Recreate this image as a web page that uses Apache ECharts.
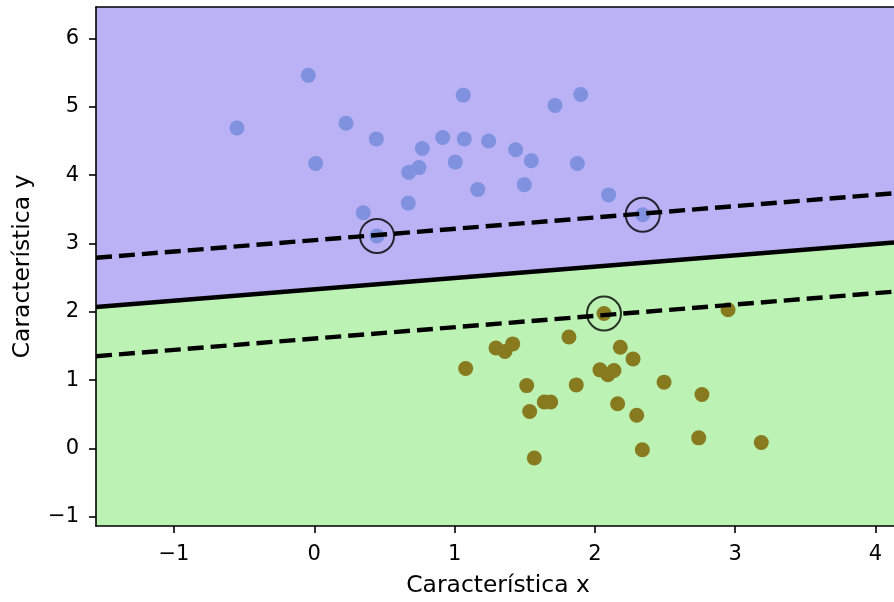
<!DOCTYPE html>
<html>
<head>
<meta charset="utf-8">
<script src="https://cdn.jsdelivr.net/npm/echarts@6/dist/echarts.min.js"></script>
<style>
  html, body { margin: 0; padding: 0; background: #ffffff; }
  #chart { width: 894px; height: 602px; }
</style>
</head>
<body>
<div id="chart"></div>
<script>
// Class 0 samples (upper cluster)
const class0X = [-0.043, 1.062, 1.716, 1.899, 0.226, 0.442, 0.770, 0.915, 1.069, 1.243, 1.435, 1.547, 1.875, 0.010, 0.746, 0.673, 1.005, 1.165, 1.497, 0.670, 0.349, 0.447, -0.551, 2.098, 2.341];
const class0Y = [5.46, 5.17, 5.02, 5.18, 4.76, 4.53, 4.39, 4.55, 4.53, 4.50, 4.37, 4.21, 4.17, 4.17, 4.11, 4.04, 4.19, 3.79, 3.86, 3.59, 3.45, 3.11, 4.69, 3.71, 3.42];

// Class 1 samples (lower cluster)
const class1X = [1.079, 1.295, 1.359, 1.414, 1.815, 1.514, 1.867, 1.639, 1.685, 1.535, 1.568, 2.065, 2.949, 2.181, 2.272, 2.036, 2.093, 2.136, 2.493, 2.763, 2.162, 2.298, 2.338, 2.740, 3.186];
const class1Y = [1.17, 1.47, 1.42, 1.53, 1.63, 0.92, 0.93, 0.68, 0.68, 0.54, -0.14, 1.975, 2.03, 1.48, 1.31, 1.15, 1.08, 1.14, 0.97, 0.79, 0.655, 0.485, -0.02, 0.155, 0.087];

// Support vectors
const supportX = [0.447, 2.341, 2.065];
const supportY = [3.11, 3.42, 1.975];

// Axis extents
const xRange = [-1.556, 4.132];
const yRange = [-1.135, 6.46];

// Decision boundary and margins, sampled at the x extent
const boundaryY = [2.07, 3.014];
const marginUpperY = [2.79, 3.734];
const marginLowerY = [1.35, 2.294];

// Tick positions
const xTicks = [-1, 0, 1, 2, 3, 4];
const yTicks = [-1, 0, 1, 2, 3, 4, 5, 6];

const FONT = 'DejaVu Sans';
const pairs = (xs, ys) => xs.map((x, i) => [x, ys[i]]);
const fmt = v => (v < 0 ? '\u2212' + Math.abs(v) : String(v));

const chart = echarts.init(document.getElementById('chart'), null, { renderer: 'canvas' });

const axisCommon = {
  type: 'value',
  z: 10,
  splitLine: { show: false },
  axisLine: { show: true, onZero: false, lineStyle: { color: '#000', width: 1.6 } },
  axisTick: { show: true, inside: false, length: 7, lineStyle: { color: '#000', width: 1.6 } },
  axisLabel: { color: '#000', fontFamily: FONT, fontSize: 21, formatter: fmt }
};

chart.setOption({
  backgroundColor: '#ffffff',
  animation: false,
  grid: { left: 96, top: 7, right: 0, bottom: 69, containLabel: false },
  xAxis: [
    Object.assign({}, axisCommon, {
      min: xRange[0], max: xRange[1],
      axisTick: Object.assign({}, axisCommon.axisTick, { customValues: xTicks }),
      axisLabel: Object.assign({}, axisCommon.axisLabel, { customValues: xTicks, margin: 18 }),
      name: 'Característica x',
      nameLocation: 'middle',
      nameGap: 48,
      nameTextStyle: { color: '#000', fontFamily: FONT, fontSize: 23.4, padding: [0, 0, 0, 6] }
    }),
    {
      type: 'value', position: 'top', min: xRange[0], max: xRange[1], z: 10,
      axisLine: { show: true, onZero: false, lineStyle: { color: '#000', width: 1.6 } },
      axisTick: { show: false }, axisLabel: { show: false }, splitLine: { show: false }
    }
  ],
  yAxis: [
    Object.assign({}, axisCommon, {
      min: yRange[0], max: yRange[1],
      axisTick: Object.assign({}, axisCommon.axisTick, { customValues: yTicks }),
      axisLabel: Object.assign({}, axisCommon.axisLabel, { customValues: yTicks, margin: 17 }),
      name: 'Característica y',
      nameLocation: 'middle',
      nameGap: 62,
      nameRotate: 90,
      nameTextStyle: { color: '#000', fontFamily: FONT, fontSize: 23.4 }
    })
  ],
  series: [
    {
      // region above the boundary
      type: 'line', xAxisIndex: 0, yAxisIndex: 0, z: 1,
      data: pairs(xRange, boundaryY),
      symbol: 'none', silent: true,
      lineStyle: { width: 0 },
      areaStyle: { color: '#bab2f4', opacity: 1, origin: 'end' }
    },
    {
      // region below the boundary
      type: 'line', xAxisIndex: 0, yAxisIndex: 0, z: 1,
      data: pairs(xRange, boundaryY),
      symbol: 'none', silent: true,
      lineStyle: { width: 0 },
      areaStyle: { color: '#bcf3b4', opacity: 1, origin: 'start' }
    },
    {
      type: 'scatter', z: 3,
      data: pairs(class0X, class0Y),
      symbolSize: 15,
      itemStyle: { color: '#7f91df', opacity: 1 }
    },
    {
      type: 'scatter', z: 3,
      data: pairs(class1X, class1Y),
      symbolSize: 15,
      itemStyle: { color: '#877a1f', opacity: 1 }
    },
    {
      type: 'line', z: 4,
      data: pairs(xRange, boundaryY),
      symbol: 'none', silent: true,
      lineStyle: { color: '#000', width: 4.4, type: 'solid' }
    },
    {
      type: 'line', z: 4,
      data: pairs(xRange, marginUpperY),
      symbol: 'none', silent: true,
      lineStyle: { color: '#000', width: 4.4, type: [16, 7] }
    },
    {
      type: 'line', z: 4,
      data: pairs(xRange, marginLowerY),
      symbol: 'none', silent: true,
      lineStyle: { color: '#000', width: 4.4, type: [16, 7] }
    },
    {
      type: 'scatter', z: 5,
      data: pairs(supportX, supportY),
      symbolSize: 34,
      itemStyle: { color: 'rgba(0,0,0,0)', borderColor: '#000', borderWidth: 2 }
    }
  ]
});
</script>
</body>
</html>
